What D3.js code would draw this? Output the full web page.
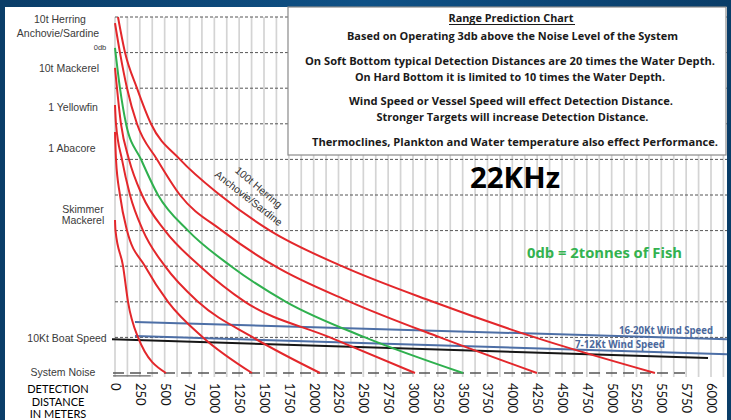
<!DOCTYPE html>
<html><head><meta charset="utf-8">
<script src="https://cdn.jsdelivr.net/npm/d3@7"></script>
<style>body{margin:0;background:#fff;} svg{display:block}</style>
</head><body>
<svg id="c" width="731" height="420"></svg>
<script>
// ---------- DATA ----------
const xTicks = d3.range(0, 6001, 250);           // distance tick labels (m)
const xGrid = d3.range(0, 6126, 125);            // vertical grid every 125 m
const levelGrid = d3.range(10, 101, 10);         // dotted level grid lines

// curves: distance (m) where each curve crosses a level
const herring100Dist  = [30, 101, 221, 362, 654, 1057, 1560, 2285, 3201, 4228, 5436];
const herring100Level = [100, 90, 80, 70, 60, 50, 40, 30, 20, 10, 0];
const herring10Dist   = [0, 50, 121, 221, 423, 654, 1077, 1611, 2366, 3272, 4248];
const herring10Level  = [98.3, 90, 80, 70, 60, 50, 40, 30, 20, 10, 0];
const zeroDbDist      = [0, 50, 111, 262, 433, 735, 1168, 1721, 2517, 3503];
const zeroDbLevel     = [91.3, 80, 70, 60, 50, 40, 30, 20, 10, 0];
const mackerel10Dist  = [0, 60, 141, 272, 503, 856, 1309, 2164, 3020];
const mackerel10Level = [85.7, 70, 60, 50, 40, 30, 20, 10, 0];
const yellowfinDist   = [0, 10, 70, 151, 282, 503, 836, 1389, 2064];
const yellowfinLevel  = [75.3, 70, 60, 50, 40, 30, 20, 10, 0];
const abacoreDist     = [0, 10, 50, 121, 302, 534, 886, 1379];
const abacoreLevel    = [67.7, 60, 50, 40, 30, 20, 10, 0];
const skimmerDist     = [0, 5, 81, 131, 232, 513];
const skimmerLevel    = [43, 40, 30, 20, 10, 0];

// straight noise lines: [startDist, startLevel, endDist, endLevel]
const wind1620 = [201, 14.3, 6161, 9.5];
const wind712  = [201, 10.4, 6161, 5.3];
const boat10   = [-30, 9.5, 5970, 4.2];
const systemNoise = [-20, 0, 5790, 0];

const leftLabels = [
  {t:"10t Herring", x:60, y:19}, {t:"Anchovie/Sardine", x:58, y:33},
  {t:"10t Mackerel", x:69, y:68}, {t:"1 Yellowfin", x:73, y:107},
  {t:"1 Abacore", x:72, y:148}, {t:"Skimmer", x:83, y:209}, {t:"Mackerel", x:83, y:220},
  {t:"10Kt Boat Speed", x:67, y:338}, {t:"System Noise", x:63, y:372}
];
const boxLines = [
  "Based on Operating 3db above the Noise Level of the System",
  "On Soft Bottom typical Detection Distances are 20 times the Water Depth.",
  "On Hard Bottom it is limited to 10 times the Water Depth.",
  "Wind Speed or Vessel Speed will effect Detection Distance.",
  "Stronger Targets will increase Detection Distance.",
  "Thermoclines, Plankton and Water temperature also effect Performance."
];

// ---------- DRAW ----------
const svg = d3.select("#c");
const x = d3.scaleLinear().domain([0, 6000]).range([115, 711]);
const y = d3.scaleLinear().domain([0, 100]).range([373, 17]);

const grad = svg.append("defs").append("linearGradient").attr("id", "bg").attr("x1", 0).attr("x2", 1);
grad.append("stop").attr("offset", "0%").attr("stop-color", "#0a3d68");
grad.append("stop").attr("offset", "50%").attr("stop-color", "#0f5186");
grad.append("stop").attr("offset", "100%").attr("stop-color", "#0a3d68");
svg.append("rect").attr("width", 731).attr("height", 420).attr("fill", "url(#bg)");
svg.append("rect").attr("x", 5).attr("y", 7).attr("width", 722).attr("height", 413).attr("fill", "#fff");

// vertical grid
svg.append("g").selectAll("line").data(xGrid).join("line")
  .attr("x1", d => x(d)).attr("x2", d => x(d)).attr("y1", 17).attr("y2", 377)
  .attr("stroke", "#d4d4d4").attr("stroke-width", 1.7);
// dotted level grid
svg.append("g").selectAll("line").data(levelGrid).join("line")
  .attr("x1", 115).attr("x2", 727).attr("y1", d => y(d)).attr("y2", d => y(d))
  .attr("stroke", "#555").attr("stroke-width", 1).attr("stroke-dasharray", "3,2");

// system noise
svg.append("line").attr("x1", x(systemNoise[0])).attr("x2", x(systemNoise[2]))
  .attr("y1", y(systemNoise[1])).attr("y2", y(systemNoise[3]))
  .attr("stroke", "#555").attr("stroke-width", 1.4).attr("stroke-dasharray", "11,6");
svg.append("line").attr("x1", x(-20)).attr("x2", x(360)).attr("y1", y(-0.8)).attr("y2", y(-0.8))
  .attr("stroke", "#666").attr("stroke-width", 1.2);

function straight(l, color, w) {
  svg.append("line").attr("x1", x(l[0])).attr("y1", y(l[1])).attr("x2", x(l[2])).attr("y2", y(l[3]))
    .attr("stroke", color).attr("stroke-width", w);
}
straight(wind1620, "#4d6fa6", 2);
straight(wind712, "#4d6fa6", 2);
straight(boat10, "#161616", 2);

const line = d3.line().x(d => x(d[0])).y(d => y(d[1])).curve(d3.curveMonotoneX);
const curves = [
  [herring100Dist, herring100Level, "#e3272b"],
  [herring10Dist, herring10Level, "#e3272b"],
  [mackerel10Dist, mackerel10Level, "#e3272b"],
  [yellowfinDist, yellowfinLevel, "#e3272b"],
  [abacoreDist, abacoreLevel, "#e3272b"],
  [skimmerDist, skimmerLevel, "#e3272b"],
  [zeroDbDist, zeroDbLevel, "#2fb04e"]
];
svg.append("g").selectAll("path").data(curves).join("path")
  .attr("d", c => line(c[0].map((d, i) => [d, c[1][i]])))
  .attr("fill", "none").attr("stroke", c => c[2]).attr("stroke-width", 2);

// text box
svg.append("rect").attr("x", 288).attr("y", 7).attr("width", 438).attr("height", 148)
  .attr("fill", "#fff").attr("stroke", "#8a8a8a").attr("stroke-width", 1.2);
const bx = 511;
svg.append("text").attr("x", bx).attr("y", 22).attr("text-anchor", "middle")
  .attr("font-family", "Open Sans").attr("font-weight", 700).attr("font-size", 11)
  .attr("textLength", 125).attr("lengthAdjust", "spacingAndGlyphs").attr("fill", "#1a1a1a")
  .text("Range Prediction Chart");
svg.append("line").attr("x1", 449).attr("x2", 575).attr("y1", 24.5).attr("y2", 24.5)
  .attr("stroke", "#1a1a1a").attr("stroke-width", 1);
const boxY = [40, 65, 81, 105, 121, 146];
const boxW = [331, 410, 310, 324, 272, 406];
const boxX = [512.5, 510, 510, 511, 512.5, 515];
svg.append("g").selectAll("text").data(boxLines).join("text")
  .attr("x", (d, i) => boxX[i]).attr("y", (d, i) => boxY[i]).attr("text-anchor", "middle")
  .attr("font-family", "Open Sans").attr("font-weight", 700).attr("font-size", 11)
  .attr("textLength", (d, i) => boxW[i]).attr("lengthAdjust", "spacingAndGlyphs")
  .attr("fill", "#1a1a1a").text(d => d);

// big labels
svg.append("text").attr("x", 470).attr("y", 188).attr("font-family", "Open Sans").attr("font-weight", 700)
  .attr("font-size", 29).attr("textLength", 90).attr("lengthAdjust", "spacingAndGlyphs")
  .attr("fill", "#000").text("22KHz");
svg.append("text").attr("x", 527).attr("y", 258).attr("font-family", "Open Sans").attr("font-weight", 700)
  .attr("font-size", 15).attr("textLength", 155).attr("lengthAdjust", "spacingAndGlyphs")
  .attr("fill", "#33b24f").text("0db = 2tonnes of Fish");
svg.append("text").attr("x", 619).attr("y", 334).attr("font-family", "Open Sans").attr("font-weight", 700)
  .attr("font-size", 11).attr("textLength", 94).attr("lengthAdjust", "spacingAndGlyphs")
  .attr("fill", "#4a689c").text("16-20Kt Wind Speed");
svg.append("text").attr("x", 575).attr("y", 348).attr("font-family", "Open Sans").attr("font-weight", 700)
  .attr("font-size", 11).attr("textLength", 90).attr("lengthAdjust", "spacingAndGlyphs")
  .attr("fill", "#4a689c").text("7-12Kt Wind Speed");

// curve label
const cl = svg.append("g").attr("font-family", "Liberation Sans, Arial").attr("font-size", 10.5)
  .attr("fill", "#333").attr("text-anchor", "middle").attr("dominant-baseline", "central");
cl.append("text").attr("transform", "translate(259,187) rotate(40)").text("100t Herring");
cl.append("text").attr("transform", "translate(249,198) rotate(38)").text("Anchovie/Sardine");

// left labels
const ll = svg.append("g").attr("font-family", "Liberation Sans, Arial").attr("font-size", 10.5)
  .attr("fill", "#3a3a3a").attr("text-anchor", "middle").attr("dominant-baseline", "central");
ll.selectAll("text").data(leftLabels).join("text").attr("x", d => d.x).attr("y", d => d.y).text(d => d.t);
ll.append("text").attr("x", 100).attr("y", 47).attr("font-size", 7.5).text("0db");

// axis title
const at = svg.append("g").attr("font-family", "Lato").attr("font-size", 11).attr("fill", "#000")
  .attr("text-anchor", "middle").attr("dominant-baseline", "central");
[["DETECTION", 388], ["DISTANCE", 401], ["IN METERS", 413]].forEach(d =>
  at.append("text").attr("x", 58).attr("y", d[1]).text(d[0]));

// x tick labels rotated
const xAxis = d3.axisBottom(x).tickValues(xTicks).tickSize(0).tickPadding(0).tickFormat(d3.format("d"));
const gx = svg.append("g").attr("transform", "translate(0,383)").call(xAxis);
gx.select(".domain").remove();
gx.selectAll("text").attr("font-family", "Lato").attr("font-size", 13).attr("fill", "#111")
  .attr("y", 0).attr("dy", "0.35em").attr("x", 0)
  .attr("text-anchor", "start").attr("transform", "rotate(90)");
</script>
</body></html>
